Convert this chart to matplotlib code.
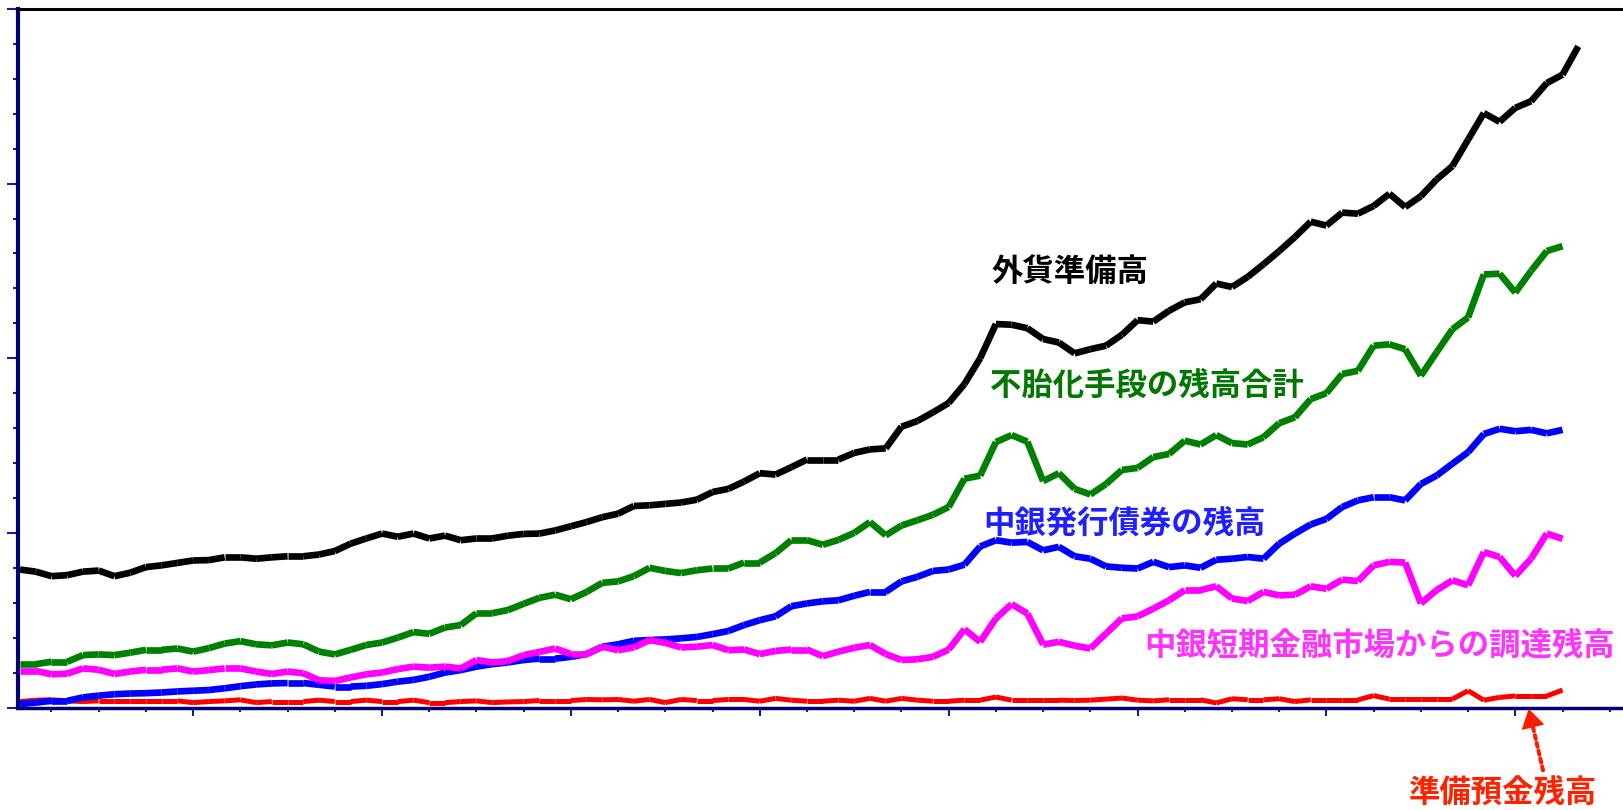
import numpy as np
import matplotlib
matplotlib.use('Agg')
from matplotlib import pyplot as plt
from matplotlib.ticker import FixedLocator, MultipleLocator

plt.rcParams['font.family'] = ['Noto Sans CJK JP', 'DejaVu Sans']

##########################################################################
# monthly balances (the source has no axis labels)
##########################################################################

# 外貨準備高 (one month longer than the others)
gaika = [3.95, 3.89, 3.76, 3.79, 3.89, 3.92, 3.76, 3.86, 4.02, 4.07,
         4.14, 4.21, 4.22, 4.30, 4.30, 4.26, 4.30, 4.33, 4.33, 4.38,
         4.48, 4.69, 4.84, 4.98, 4.89, 4.98, 4.84, 4.92, 4.79, 4.84,
         4.84, 4.92, 4.97, 4.98, 5.07, 5.19, 5.31, 5.45, 5.55, 5.77,
         5.79, 5.83, 5.87, 5.95, 6.17, 6.26, 6.47, 6.71, 6.67, 6.88,
         7.10, 7.10, 7.10, 7.29, 7.39, 7.42, 8.04, 8.20, 8.45, 8.72,
         9.26, 10.00, 10.98, 10.96, 10.86, 10.55, 10.45, 10.14, 10.26, 10.36,
         10.67, 11.09, 11.05, 11.36, 11.60, 11.69, 12.14, 12.04, 12.33, 12.69,
         13.07, 13.47, 13.91, 13.80, 14.17, 14.14, 14.36, 14.71, 14.33, 14.64,
         15.12, 15.50, 16.26, 17.02, 16.77, 17.17, 17.36, 17.88, 18.12, 18.93]

# 不胎化手段の残高合計
futaika = [1.24, 1.24, 1.31, 1.31, 1.50, 1.52, 1.50, 1.57, 1.65, 1.65,
           1.69, 1.60, 1.70, 1.83, 1.90, 1.81, 1.78, 1.86, 1.81, 1.60,
           1.52, 1.65, 1.79, 1.86, 2.00, 2.16, 2.11, 2.29, 2.36, 2.70,
           2.70, 2.79, 2.97, 3.14, 3.23, 3.10, 3.31, 3.57, 3.61, 3.76,
           4.00, 3.91, 3.85, 3.93, 3.98, 3.98, 4.15, 4.15, 4.42, 4.79,
           4.79, 4.66, 4.80, 5.00, 5.31, 4.93, 5.21, 5.36, 5.52, 5.74,
           6.55, 6.64, 7.60, 7.80, 7.61, 6.48, 6.71, 6.26, 6.10, 6.40,
           6.80, 6.86, 7.17, 7.26, 7.64, 7.53, 7.80, 7.57, 7.53, 7.74,
           8.14, 8.31, 8.83, 9.00, 9.55, 9.64, 10.36, 10.40, 10.26, 9.50,
           10.17, 10.83, 11.17, 12.40, 12.42, 11.88, 12.50, 13.07, 13.21]

# 中銀発行債券の残高
saiken = [0.10, 0.14, 0.19, 0.19, 0.29, 0.34, 0.38, 0.40, 0.41, 0.43,
          0.46, 0.48, 0.50, 0.55, 0.61, 0.66, 0.69, 0.70, 0.70, 0.65,
          0.60, 0.60, 0.62, 0.67, 0.74, 0.79, 0.88, 1.00, 1.07, 1.17,
          1.24, 1.29, 1.36, 1.40, 1.40, 1.45, 1.53, 1.74, 1.81, 1.91,
          1.93, 1.95, 1.98, 2.02, 2.10, 2.19, 2.36, 2.50, 2.61, 2.90,
          2.98, 3.04, 3.07, 3.20, 3.31, 3.31, 3.61, 3.74, 3.91, 3.95,
          4.09, 4.61, 4.79, 4.72, 4.74, 4.50, 4.60, 4.33, 4.26, 4.04,
          4.00, 3.98, 4.17, 4.02, 4.07, 4.00, 4.23, 4.26, 4.31, 4.26,
          4.69, 4.98, 5.24, 5.40, 5.74, 5.93, 6.02, 6.02, 5.93, 6.40,
          6.64, 6.98, 7.31, 7.83, 7.98, 7.91, 7.95, 7.85, 7.95]

# 中銀短期金融市場からの調達残高
tanki = [1.05, 1.05, 0.95, 0.97, 1.12, 1.08, 0.96, 1.03, 1.08, 1.08,
         1.12, 1.03, 1.07, 1.12, 1.12, 1.03, 0.96, 1.03, 0.98, 0.78,
         0.76, 0.86, 0.95, 1.00, 1.10, 1.17, 1.14, 1.17, 1.12, 1.36,
         1.29, 1.33, 1.50, 1.59, 1.69, 1.53, 1.53, 1.74, 1.64, 1.72,
         1.93, 1.85, 1.72, 1.74, 1.79, 1.64, 1.66, 1.53, 1.62, 1.66,
         1.66, 1.47, 1.60, 1.71, 1.79, 1.53, 1.36, 1.38, 1.45, 1.66,
         2.24, 1.88, 2.55, 2.96, 2.69, 1.80, 1.88, 1.77, 1.69, 2.12,
         2.55, 2.61, 2.83, 3.07, 3.36, 3.36, 3.47, 3.12, 3.05, 3.31,
         3.21, 3.23, 3.47, 3.40, 3.66, 3.62, 4.07, 4.17, 4.15, 2.98,
         3.36, 3.64, 3.50, 4.45, 4.31, 3.77, 4.26, 4.98, 4.83]

# 準備預金残高
junbi = [0.17, 0.21, 0.22, 0.19, 0.17, 0.19, 0.19, 0.19, 0.19, 0.19,
         0.19, 0.14, 0.17, 0.19, 0.22, 0.14, 0.17, 0.17, 0.17, 0.21,
         0.17, 0.17, 0.21, 0.17, 0.17, 0.21, 0.14, 0.14, 0.17, 0.19,
         0.14, 0.16, 0.17, 0.20, 0.20, 0.20, 0.23, 0.22, 0.23, 0.18,
         0.23, 0.14, 0.23, 0.20, 0.20, 0.23, 0.23, 0.18, 0.26, 0.21,
         0.18, 0.18, 0.21, 0.18, 0.26, 0.18, 0.26, 0.21, 0.18, 0.18,
         0.21, 0.21, 0.30, 0.21, 0.21, 0.21, 0.21, 0.20, 0.21, 0.24,
         0.27, 0.21, 0.19, 0.22, 0.22, 0.22, 0.13, 0.25, 0.22, 0.22,
         0.25, 0.17, 0.22, 0.22, 0.22, 0.22, 0.34, 0.24, 0.24, 0.24,
         0.24, 0.24, 0.48, 0.21, 0.29, 0.33, 0.33, 0.33, 0.50]

labels = ['外貨準備高', '不胎化手段の残高合計', '中銀発行債券の残高',
          '中銀短期金融市場からの調達残高', '準備預金残高']


def draw_series(ax, vals, color, lw, z):
    '''each month-to-month step drawn on its own, like the old spreadsheet chart'''
    x = np.arange(len(vals))
    for k in range(len(vals) - 1):
        ax.plot(x[k:k + 2], vals[k:k + 2], color=color, lw=lw,
                solid_capstyle='butt', zorder=z)


fig = plt.figure(figsize=(16.23, 8.10), dpi=100)
ax = fig.add_axes([17.5 / 1623, 102.5 / 810, 1608 / 1623, 698.5 / 810])

draw_series(ax, junbi, '#ff0000', 3.6, 2)
draw_series(ax, saiken, '#0000ff', 4.8, 3)
draw_series(ax, tanki, '#ff00ff', 4.8, 4)
draw_series(ax, futaika, '#008000', 4.8, 5)
draw_series(ax, gaika, '#000000', 4.8, 6)

ax.set_xlim(-0.16, 102)
ax.set_ylim(0, 20)

navy = '#000070'
ax.spines['right'].set_visible(False)
ax.spines['top'].set_color('black')
ax.spines['top'].set_linewidth(2.2)
ax.spines['left'].set_color(navy)
ax.spines['left'].set_linewidth(3.0)
ax.spines['bottom'].set_color(navy)
ax.spines['bottom'].set_linewidth(2.5)

# yearly major ticks, quarterly minor ticks
ax.xaxis.set_major_locator(FixedLocator(np.arange(11, 102, 12)))
ax.xaxis.set_minor_locator(FixedLocator(np.arange(2, 102, 3)))
ax.yaxis.set_major_locator(MultipleLocator(5))
ax.yaxis.set_minor_locator(MultipleLocator(1))
ax.tick_params(which='both', direction='out', labelbottom=False,
               labelleft=False, color='#1c1c8a', width=1.5)
ax.tick_params(axis='y', which='major', length=8)
ax.tick_params(axis='y', which='minor', length=3.5)
ax.tick_params(axis='x', which='major', length=5.5)
ax.tick_params(axis='x', which='minor', length=3)

fs = 22.6
ax.text(61.75, 12.44, labels[0], fontsize=fs, fontweight='bold',
        color='#000000', va='center', ha='left')
ax.text(61.6, 9.21, labels[1], fontsize=fs, fontweight='bold',
        color='#007800', va='center', ha='left')
ax.text(61.2, 5.27, labels[2], fontsize=fs, fontweight='bold',
        color='#1f1fff', va='center', ha='left')
ax.text(71.4, 1.79, labels[3], fontsize=fs, fontweight='bold',
        color='#ff33ff', va='center', ha='left')
ax.text(88.2, -2.43, labels[4], fontsize=fs, fontweight='bold',
        color='#ff2200', va='center', ha='left', clip_on=False)

# dotted pointer from the reserve label up to its line, solid head on top
arrow_red = '#ff1a00'
ax.annotate('', xy=(96.07, -0.46), xytext=(96.76, -1.80),
            arrowprops=dict(arrowstyle='-', color=arrow_red, lw=2.9,
                            linestyle=(0, (1, 1)), shrinkA=0, shrinkB=0),
            annotation_clip=False)
ax.annotate('', xy=(95.85, -0.04), xytext=(96.07, -0.46),
            arrowprops=dict(arrowstyle='-|>,head_length=0.45,head_width=0.28',
                            color=arrow_red, lw=1.0, mutation_scale=27,
                            shrinkA=0, shrinkB=0),
            annotation_clip=False)

fig.savefig('out.png', dpi=100)
